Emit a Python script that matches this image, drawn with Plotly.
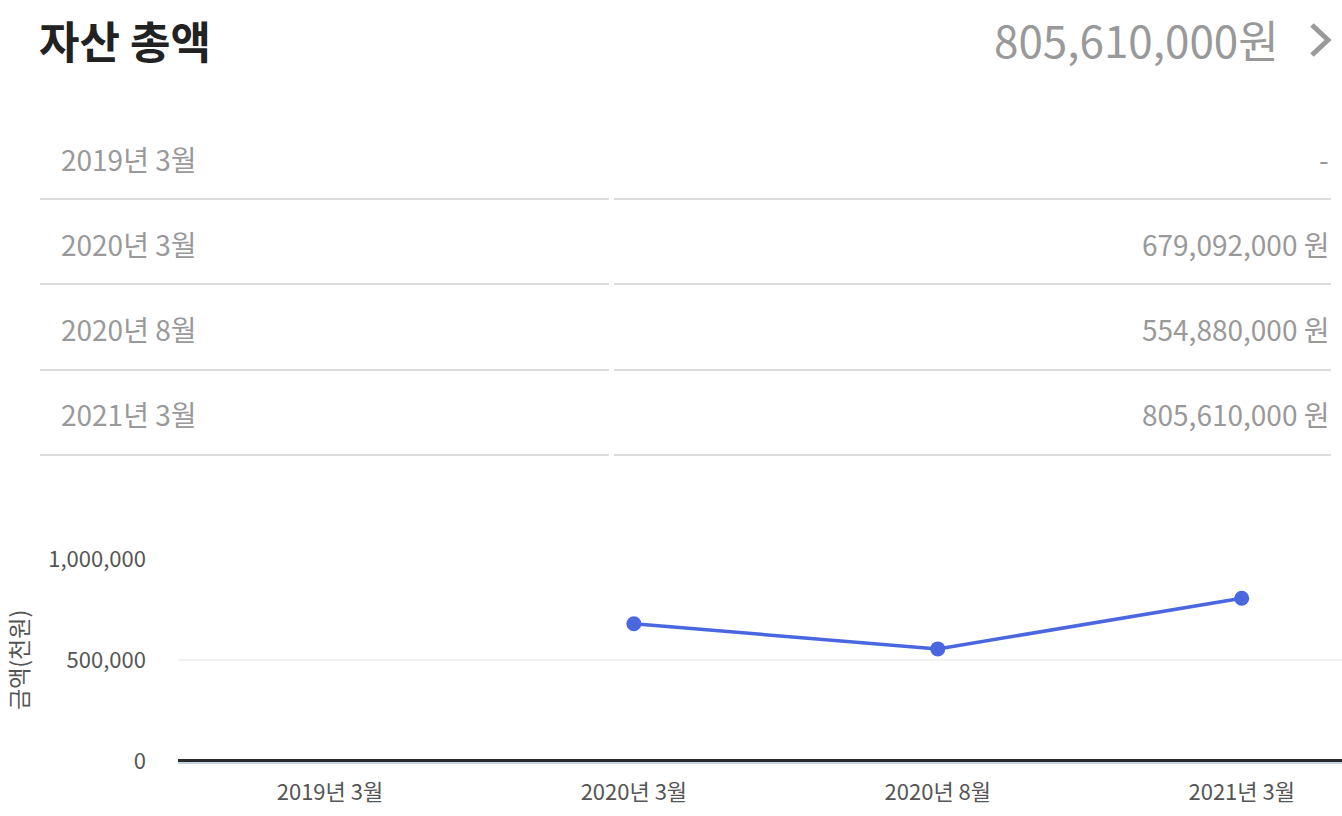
import plotly.graph_objects as go

categories = ["2019년 3월", "2020년 3월", "2020년 8월", "2021년 3월"]
values_thousand = [None, 679092, 554880, 805610]
table_labels = ["2019년 3월", "2020년 3월", "2020년 8월", "2021년 3월"]
table_values = ["-", "679,092,000 원", "554,880,000 원", "805,610,000 원"]
title_text = "자산 총액"
total_text = "805,610,000원"
y_ticks = [0, 500000, 1000000]
y_tick_labels = ["0", "500,000", "1,000,000"]

W, H = 1342, 816
L, R, T, B = 178, 1342, 559, 761
FONT = "Noto Sans CJK KR"


def px(x):
    return (x - L) / (R - L)


def py(y):
    return (B - y) / (B - T)


fig = go.Figure()
fig.add_trace(go.Scatter(
    x=categories, y=values_thousand, mode="lines+markers",
    line=dict(color="#4a67e0", width=3.5),
    marker=dict(color="#4a67e0", size=15),
    cliponaxis=False, connectgaps=False, hoverinfo="x+y",
))

annotations = [
    dict(x=px(37), y=py(40), text=f"<b>{title_text}</b>", xanchor="left", yanchor="middle",
         font=dict(size=44, color="#222222", family=FONT)),
    dict(x=px(1281), y=py(39), text=total_text, xanchor="right", yanchor="middle",
         font=dict(size=44, color="#999999", family=FONT)),
    dict(x=px(18), y=py(660), text="금액(천원)", textangle=-90, xanchor="center", yanchor="middle",
         font=dict(size=23, color="#555555", family=FONT)),
]
row_y = [159, 244, 329, 414]
for lab, val, yy in zip(table_labels, table_values, row_y):
    annotations.append(dict(x=px(59), y=py(yy), text=lab, xanchor="left", yanchor="middle",
                            font=dict(size=28, color="#999999", family=FONT)))
    annotations.append(dict(x=px(1331), y=py(yy), text=val, xanchor="right", yanchor="middle",
                            font=dict(size=28, color="#999999", family=FONT)))
for a in annotations:
    a.update(xref="paper", yref="paper", showarrow=False)

shapes = []
for ly in [199, 284, 370, 455]:
    for x0, x1 in [(40, 609), (614, 1331)]:
        shapes.append(dict(type="line", xref="paper", yref="paper",
                           x0=px(x0), x1=px(x1), y0=py(ly), y1=py(ly),
                           line=dict(color="#dddddd", width=2)))
# chevron
shapes.append(dict(type="path", xref="paper", yref="paper",
                   path=f"M {px(1312)} {py(25)} L {px(1328)} {py(40)} L {px(1312)} {py(55)}",
                   line=dict(color="#999999", width=5)))
shapes.append(dict(type="line", xref="paper", yref="paper", x0=0, x1=1,
                   y0=py(763), y1=py(763), line=dict(color="#c8d2e6", width=2)))
shapes.append(dict(type="line", xref="paper", yref="paper", x0=0, x1=1,
                   y0=py(760.5), y1=py(760.5), line=dict(color="#2b2b2b", width=3)))

fig.update_layout(
    width=W, height=H,
    margin=dict(l=L, r=W - R, t=T, b=H - B),
    paper_bgcolor="white", plot_bgcolor="white",
    showlegend=False,
    annotations=annotations, shapes=shapes,
    font=dict(family=FONT, color="#555555"),
    xaxis=dict(type="category", categoryorder="array", categoryarray=categories,
               range=[-0.5, 3.33], showgrid=False, zeroline=False, showline=False,
               ticks="", tickfont=dict(size=22, color="#555555", family=FONT),
               ticklabelstandoff=16, fixedrange=True),
    yaxis=dict(range=[0, 1000000], tickvals=y_ticks, ticktext=y_tick_labels,
               showgrid=True, gridcolor="#f2f2f2", gridwidth=1.5, zeroline=False,
               showline=False, ticks="", tickfont=dict(size=22, color="#555555", family=FONT),
               ticklabelstandoff=31, fixedrange=True),
)

fig.write_html("out.html", config={"displayModeBar": False},
               post_script="document.body.style.margin='0';document.body.style.overflow='hidden';")
